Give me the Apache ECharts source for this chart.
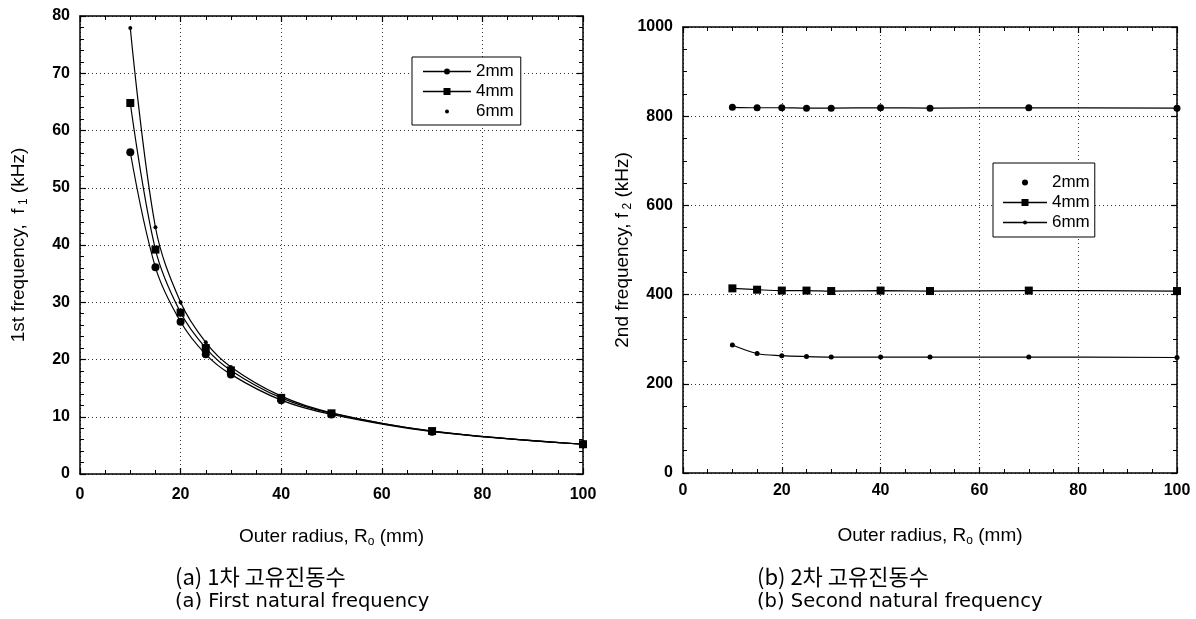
<!DOCTYPE html>
<html>
<head>
<meta charset="utf-8">
<script src="https://cdn.jsdelivr.net/npm/echarts@6/dist/echarts.min.js"></script>
<style>
html,body{margin:0;padding:0;background:#fff;}
#c{width:1196px;height:619px;}
</style>
</head>
<body>
<div id="c"></div>
<script>
// ---- data ----
const radius = [10, 15, 20, 25, 30, 40, 50, 70, 100];
const f1_2mm = [56.2, 36.1, 26.6, 20.9, 17.4, 12.9, 10.4, 7.4, 5.2];
const f1_4mm = [64.8, 39.2, 28.2, 22.0, 18.1, 13.3, 10.6, 7.5, 5.2];
const f1_6mm = [77.9, 43.1, 30.0, 23.0, 18.7, 13.6, 10.7, 7.5, 5.2];
const f2_2mm = [820, 819, 819, 818, 818, 819, 818, 819, 818];
const f2_4mm = [414, 411, 409, 409, 408, 409, 408, 409, 408];
const f2_6mm = [287, 268, 263, 261, 260, 260, 260, 260, 259];
const seriesNames = ['2mm', '4mm', '6mm'];
const xTicks1 = [0, 20, 40, 60, 80, 100];
const yTicks1 = [0, 10, 20, 30, 40, 50, 60, 70, 80];
const yTicks2 = [0, 200, 400, 600, 800, 1000];
const captions = {
  a1: '(a) 1차 고유진동수', a2: '(a) First natural frequency',
  b1: '(b) 2차 고유진동수', b2: '(b) Second natural frequency'
};

function pairs(xs, ys) { return xs.map((x, i) => [x, ys[i]]); }

const FONT = '"Liberation Sans", Arial, sans-serif';
const labelStyle = { color: '#000', fontFamily: FONT, fontSize: 16, fontWeight: 'bold' };
const axisLine = { show: true, onZero: false, lineStyle: { color: '#000', width: 1.5 } };
const tick = { show: true, inside: true, length: 6, lineStyle: { color: '#000', width: 1.2 } };
const minorTick = (n) => ({ show: true, splitNumber: n, length: 4, lineStyle: { color: '#000', width: 1 } });
const split = { show: true, lineStyle: { color: '#333', type: [1, 3], width: 1 } };
const nameRich = {
  t: { fontFamily: FONT, fontSize: 19, color: '#000' },
  s: { fontFamily: FONT, fontSize: 12, color: '#000', padding: [10, 0, 0, 0] }
};

function xAxisMain(grid, margin, gap) {
  return {
    type: 'value', gridIndex: grid, min: 0, max: 100, interval: 20, position: 'bottom',
    axisLine, axisTick: tick, minorTick: minorTick(4), splitLine: split,
    axisLabel: Object.assign({ margin, formatter: v => xTicks1.includes(v) ? String(v) : '' }, labelStyle),
    name: '{t|Outer radius, R}{s|o}{t| (mm)}', nameLocation: 'middle', nameGap: gap,
    nameTextStyle: { rich: nameRich }
  };
}
function xAxisMirror(grid) {
  return {
    type: 'value', gridIndex: grid, min: 0, max: 100, interval: 20, position: 'top',
    axisLine, axisTick: tick, minorTick: minorTick(4), splitLine: { show: false },
    axisLabel: { show: false }
  };
}
function yAxisPair(grid, max, interval, minorN, ticks, name, gap) {
  return [{
    type: 'value', gridIndex: grid, min: 0, max, interval, position: 'left',
    axisLine, axisTick: tick, minorTick: minorTick(minorN), splitLine: split,
    axisLabel: Object.assign({ margin: 10, formatter: v => ticks.includes(v) ? String(v) : '' }, labelStyle),
    name, nameLocation: 'middle', nameGap: gap, nameRotate: 90,
    nameTextStyle: { rich: nameRich }
  }, {
    type: 'value', gridIndex: grid, min: 0, max, interval, position: 'right',
    axisLine, axisTick: tick, minorTick: minorTick(minorN), splitLine: { show: false },
    axisLabel: { show: false }
  }];
}

const y1 = yAxisPair(0, 80, 10, 5, yTicks1, '{t|1st frequency,  f}{s| 1}{t| (kHz)}', 50);
const y2 = yAxisPair(1, 1000, 200, 4, yTicks2, '{t|2nd frequency, f}{s| 2}{t| (kHz)}', 46);

const lineStyle = { color: '#000', width: 1.2 };
function mk(name, data, xi, yi, symbol, size) {
  return {
    name, type: 'line', xAxisIndex: xi, yAxisIndex: yi, data,
    smooth: 0.35, symbol, symbolSize: size, showSymbol: true,
    lineStyle, itemStyle: { color: '#000', borderWidth: 0 },
    emphasis: { disabled: true }, animation: false, z: 5
  };
}

// legend icon shapes (W x 10 box; corner specks fix the box size)
function iconSet(W) {
  const c = W / 2;
  const BOX = `M0,0h0.01v0.01h-0.01z M${W - 0.01},9.99h0.01v0.01h-0.01z `;
  const LINE = `M0,4.3h${W}v1.4h-${W}z `;
  const CIRC3 = `M${c - 3},5a3,3 0 1,1 6,0a3,3 0 1,1 -6,0z `;
  const CIRC2 = `M${c - 2},5a2,2 0 1,1 4,0a2,2 0 1,1 -4,0z `;
  const SQ = `M${c - 3.5},1.5h7v7h-7z `;
  return {
    line2: 'path://' + BOX + LINE + CIRC3,
    line4: 'path://' + BOX + LINE + SQ,
    line6: 'path://' + BOX + LINE + CIRC2,
    dot3: 'path://' + BOX + CIRC3,
    dot2: 'path://' + BOX + CIRC2
  };
}
const iconsL = iconSet(48);
const iconsR = iconSet(44);

const legendText = { fontFamily: FONT, fontSize: 17, color: '#000' };
const legendBase = {
  orient: 'vertical', itemHeight: 10,
  borderColor: '#000', borderWidth: 1, backgroundColor: '#fff',
  textStyle: legendText, selectedMode: false,
  itemStyle: { borderWidth: 0 }, symbolKeepAspect: true
};

const option = {
  backgroundColor: '#fff',
  animation: false,
  grid: [
    { left: 80, top: 16, width: 503, height: 458, containLabel: false },
    { left: 683, top: 27, width: 494, height: 446, containLabel: false }
  ],
  xAxis: [xAxisMain(0, 13, 52), xAxisMirror(0), xAxisMain(1, 10, 52), xAxisMirror(1)],
  yAxis: [y1[0], y1[1], y2[0], y2[1]],
  legend: [
    Object.assign({}, legendBase, {
      left: 412, top: 57, itemWidth: 48, itemGap: 3, padding: [6, 7, 5, 11],
      data: [
        { name: '2mm', icon: iconsL.line2 },
        { name: '4mm', icon: iconsL.line4 },
        { name: '6mm', icon: iconsL.dot2 }
      ]
    }),
    Object.assign({}, legendBase, {
      left: 993, top: 163, itemWidth: 44, itemGap: 3, padding: [11, 5, 6, 10],
      data: [
        { name: '2mm', icon: iconsR.dot3 },
        { name: '4mm', icon: iconsR.line4 },
        { name: '6mm', icon: iconsR.line6 }
      ]
    })
  ],
  series: [
    mk(seriesNames[0], pairs(radius, f1_2mm), 0, 0, 'circle', 8),
    mk(seriesNames[1], pairs(radius, f1_4mm), 0, 0, 'rect', 8),
    mk(seriesNames[2], pairs(radius, f1_6mm), 0, 0, 'circle', 4),
    mk(seriesNames[0], pairs(radius, f2_2mm), 2, 2, 'circle', 7),
    mk(seriesNames[1], pairs(radius, f2_4mm), 2, 2, 'rect', 8),
    mk(seriesNames[2], pairs(radius, f2_6mm), 2, 2, 'circle', 5)
  ],
  graphic: [
    { type: 'text', x: 175, y: 577, style: { text: captions.a1, font: '22px "Noto Sans CJK KR"', fill: '#000', verticalAlign: 'middle' } },
    { type: 'text', x: 175, y: 602, style: { text: captions.a2, font: '19.5px "DejaVu Sans"', fill: '#000', verticalAlign: 'middle' } },
    { type: 'text', x: 757, y: 577, style: { text: captions.b1, font: '22px "Noto Sans CJK KR"', fill: '#000', verticalAlign: 'middle' } },
    { type: 'text', x: 757, y: 602, style: { text: captions.b2, font: '19.5px "DejaVu Sans"', fill: '#000', verticalAlign: 'middle' } }
  ]
};

const chart = echarts.init(document.getElementById('c'), null, { renderer: 'canvas' });
chart.setOption(option);
</script>
</body>
</html>
